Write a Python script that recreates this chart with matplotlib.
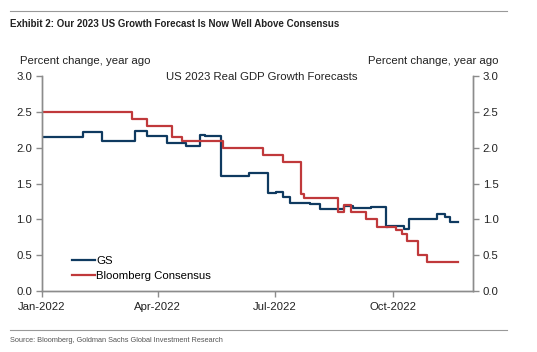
import matplotlib
matplotlib.use("Agg")
import matplotlib.pyplot as plt
import matplotlib.dates as mdates
import numpy as np
import pandas as pd

# ---- data ----
gs_dates = ["2022-01-01", "2022-02-02", "2022-02-17", "2022-03-14", "2022-03-24",
            "2022-04-08", "2022-04-23", "2022-05-04", "2022-05-08", "2022-05-20",
            "2022-06-11", "2022-06-26", "2022-07-02", "2022-07-07", "2022-07-13",
            "2022-07-28", "2022-08-05", "2022-08-24", "2022-08-31", "2022-09-14",
            "2022-09-25", "2022-09-27", "2022-10-09", "2022-10-13", "2022-11-04",
            "2022-11-10", "2022-11-14", "2022-11-20"]
gs_values = [2.15, 2.22, 2.09, 2.23, 2.16,
             2.07, 2.03, 2.18, 2.16, 1.60,
             1.65, 1.37, 1.38, 1.31, 1.23,
             1.22, 1.14, 1.19, 1.16, 1.18,
             0.90, 0.91, 0.87, 1.00, 1.08,
             1.03, 0.97, 0.97]

bb_dates = ["2022-01-01", "2022-03-12", "2022-03-24", "2022-04-12", "2022-04-20",
            "2022-05-22", "2022-06-22", "2022-07-07", "2022-07-21", "2022-07-24",
            "2022-08-19", "2022-08-24", "2022-08-29", "2022-09-10", "2022-09-18",
            "2022-10-03", "2022-10-08", "2022-10-12", "2022-10-20", "2022-10-27",
            "2022-11-20"]
bb_values = [2.5, 2.4, 2.3, 2.15, 2.1,
             2.0, 1.9, 1.8, 1.35, 1.3,
             1.1, 1.2, 1.1, 1.0, 0.9,
             0.85, 0.8, 0.7, 0.5, 0.4,
             0.4]

series_labels = ["GS", "Bloomberg Consensus"]
x_ticks = ["2022-01-01", "2022-04-01", "2022-07-01", "2022-10-01"]
x_tick_labels = ["Jan-2022", "Apr-2022", "Jul-2022", "Oct-2022"]
y_ticks = [0.0, 0.5, 1.0, 1.5, 2.0, 2.5, 3.0]

plt.rcParams['font.family'] = ['Liberation Sans', 'DejaVu Sans']

fs = 8.2
fig = plt.figure(figsize=(5.37, 3.52), dpi=100)
ax = fig.add_axes([0.078, 0.173, 0.803, 0.611])

blue = "#0f3a60"
red = "#c0393b"
ax.plot(pd.to_datetime(gs_dates), gs_values, drawstyle="steps-post", color=blue,
        lw=1.6, label=series_labels[0])
ax.plot(pd.to_datetime(bb_dates), bb_values, drawstyle="steps-post", color=red,
        lw=1.6, label=series_labels[1])

ax.set_xlim(pd.Timestamp("2022-01-01"), pd.Timestamp("2022-12-02"))
ax.set_ylim(0, 3.0)
ax.set_xticks(pd.to_datetime(x_ticks))
ax.set_xticklabels(x_tick_labels)
ax.set_yticks(y_ticks)
ax.set_yticklabels([f"{v:.1f}" for v in y_ticks])

ax2 = ax.twinx()
ax2.set_ylim(0, 3.0)
ax2.set_yticks(y_ticks)
ax2.set_yticklabels([f"{v:.1f}" for v in y_ticks])

spine_col = "#8c8c8c"
for a in (ax, ax2):
    a.spines["top"].set_visible(False)
    for s in ("left", "right", "bottom"):
        a.spines[s].set_color(spine_col)
        a.spines[s].set_linewidth(1.0)
    a.tick_params(colors=spine_col, labelcolor="#222222", labelsize=fs,
                  length=4, width=1.0, direction="out", pad=3)
ax.tick_params(axis="x", pad=4)

leg = ax.legend(loc="lower left", bbox_to_anchor=(0.06, 0.025), frameon=False,
                fontsize=fs, handlelength=2.0, handletextpad=0.1,
                labelspacing=0.45, borderaxespad=0)

fig.text(262/537, 1-77/352, "US 2023 Real GDP Growth Forecasts",
         ha="center", va="center", fontsize=fs, color="#222222")

fig.text(20/537, 1-61/352, "Percent change, year ago", ha="left", va="center",
         fontsize=fs, color="#222222")
fig.text(499/537, 1-61/352, "Percent change, year ago", ha="right", va="center",
         fontsize=fs, color="#222222")

fig.text(10/537, 1-24/352, "Exhibit 2: Our 2023 US Growth Forecast Is Now Well Above Consensus",
         ha="left", va="center", fontsize=7.0, fontweight="bold",
         family=["Liberation Sans Narrow", "Liberation Sans", "DejaVu Sans"],
         color="#222222")
fig.text(10/537, 1-341/352, "Source: Bloomberg, Goldman Sachs Global Investment Research",
         ha="left", va="center", fontsize=5.3,
         family=["Liberation Sans Narrow", "Liberation Sans", "DejaVu Sans"],
         color="#555555")

fig.add_artist(plt.Line2D([10/537, 507/537], [1-11/352, 1-11/352],
                          transform=fig.transFigure, color="#999999", lw=0.8))
fig.add_artist(plt.Line2D([10/537, 507/537], [1-330/352, 1-330/352],
                          transform=fig.transFigure, color="#999999", lw=0.8))

fig.savefig("out.png", dpi=100)
